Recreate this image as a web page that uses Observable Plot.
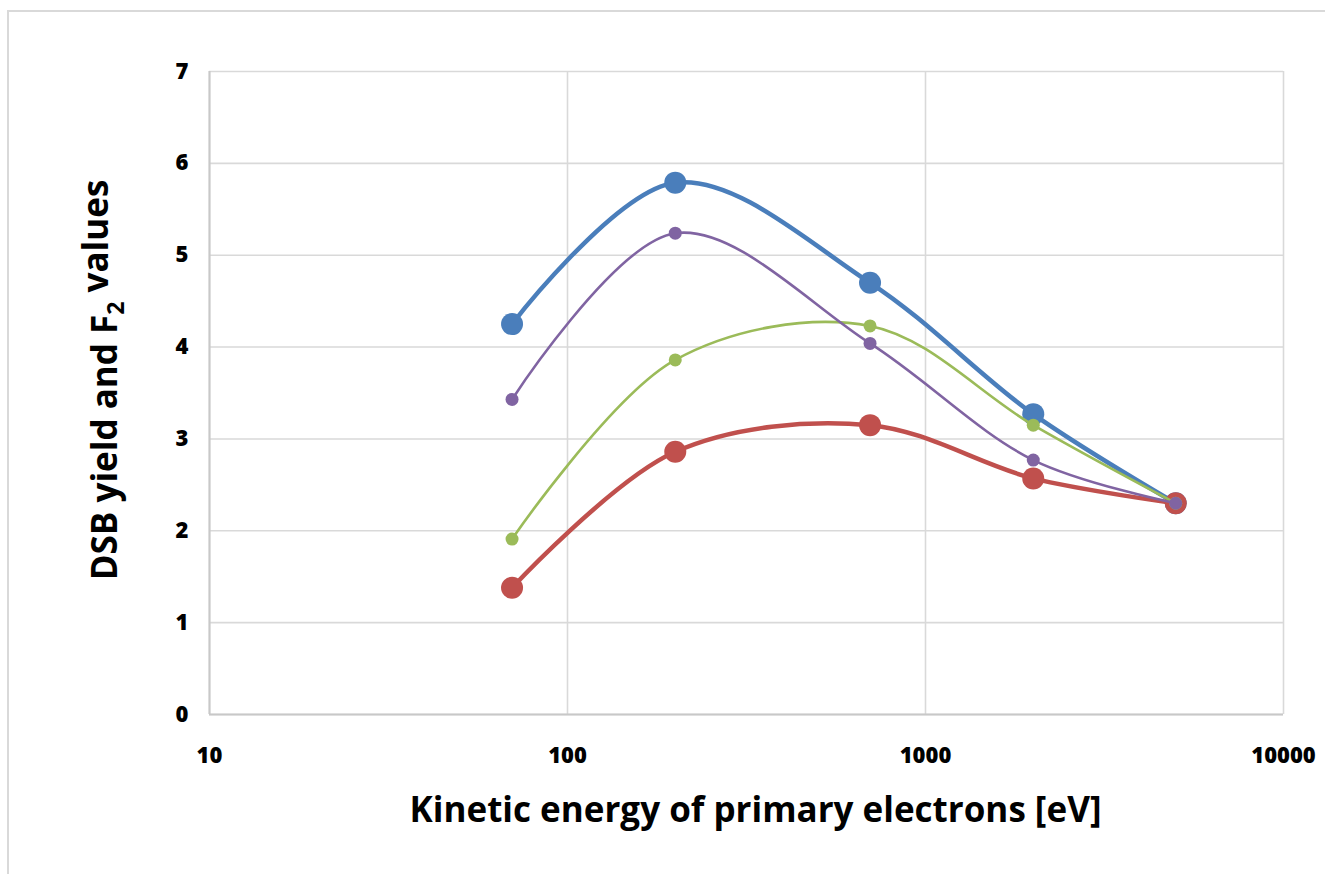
<!DOCTYPE html>
<html>
<head>
<meta charset="utf-8">
<script src="https://cdn.jsdelivr.net/npm/d3@7"></script>
<script src="https://cdn.jsdelivr.net/npm/@observablehq/plot@0.6"></script>
<style>
  html, body { margin: 0; padding: 0; background: #fff; }
  #wrap { position: relative; width: 1325px; height: 874px; overflow: hidden; }
  #frame { position: absolute; left: 7px; top: 10px; width: 1400px; height: 900px;
           border-top: 2px solid #d9d9d9; border-left: 2px solid #d9d9d9; }
  #chart { position: absolute; left: 0; top: 0; }
</style>
</head>
<body>
<div id="wrap"><div id="frame"></div><div id="chart"></div></div>
<script>
// Data
const energy = [70, 200, 700, 2000, 5000];
const blueValues   = [4.25, 5.79, 4.70, 3.27, 2.30];
const redValues    = [1.38, 2.86, 3.15, 2.57, 2.30];
const greenValues  = [1.91, 3.86, 4.23, 3.15, 2.30];
const purpleValues = [3.43, 5.24, 4.04, 2.77, 2.30];
const xTicks = [10, 100, 1000, 10000];
const yTicks = [0, 1, 2, 3, 4, 5, 6, 7];

const seriesDefs = [
  {name: "blue",   values: blueValues,   color: "#4a7ebb", width: 4.5, r: 11},
  {name: "red",    values: redValues,    color: "#c0504d", width: 4.5, r: 11},
  {name: "green",  values: greenValues,  color: "#9bbb59", width: 2.6, r: 6.5},
  {name: "purple", values: purpleValues, color: "#8064a2", width: 2.6, r: 6.5}
];

const font = "'Open Sans', 'Noto Sans', sans-serif";
const marks = [
  Plot.gridX(xTicks, {stroke: "#d9d9d9", strokeOpacity: 1, strokeWidth: 1.6}),
  Plot.gridY(yTicks, {stroke: "#d9d9d9", strokeOpacity: 1, strokeWidth: 1.6}),
  Plot.ruleX([10], {stroke: "#c8c8c8", strokeWidth: 2}),
  Plot.ruleY([0], {stroke: "#c8c8c8", strokeWidth: 2}),
  Plot.axisX(xTicks, {tickSize: 0, tickPadding: 0, dy: 33, fontSize: 22, fontWeight: 800, fill: "#000", tickFormat: d => String(d), label: null}),
  Plot.axisY(yTicks, {tickSize: 0, tickPadding: 21, fontSize: 22, fontWeight: 800, fill: "#000", tickFormat: d => String(d), label: null})
];
for (const s of seriesDefs) {
  const rows = energy.map((e, i) => ({x: e, y: s.values[i]}));
  marks.push(Plot.line(rows, {x: "x", y: "y", stroke: s.color, strokeWidth: s.width, curve: "catmull-rom"}));
  marks.push(Plot.dot(rows, {x: "x", y: "y", fill: s.color, r: s.r, stroke: "none"}));
}
marks.push(Plot.text(["Kinetic energy of primary electrons [eV]"], {
  frameAnchor: "bottom", dy: 107, dx: 9, fontSize: 35, fontWeight: 700, fill: "#000", text: d => d
}));
marks.push(Plot.text(["DSB yield and F2 values"], {
  frameAnchor: "left", textAnchor: "middle", dx: -104, dy: -13, rotate: -90, fontSize: 35, fontWeight: 700, fill: "#000", text: d => d
}));

const chart = Plot.plot({
  width: 1325,
  height: 874,
  marginLeft: 209,
  marginRight: 42,
  marginTop: 71,
  marginBottom: 160,
  style: {fontFamily: font, background: "transparent", overflow: "visible"},
  x: {type: "log", domain: [10, 10000], axis: null},
  y: {domain: [0, 7], axis: null},
  marks
});
document.getElementById("chart").appendChild(chart);

// Subscript the "2" in F2 of the y-axis title
d3.select(chart).selectAll("text").each(function() {
  const t = d3.select(this);
  if (t.text() === "DSB yield and F2 values") {
    t.text(null);
    t.append("tspan").text("DSB yield and F");
    t.append("tspan").attr("font-size", "23").attr("dy", "0.3em").text("2");
    t.append("tspan").attr("dy", "-0.45em").text(" values");
  }
});
</script>
</body>
</html>
